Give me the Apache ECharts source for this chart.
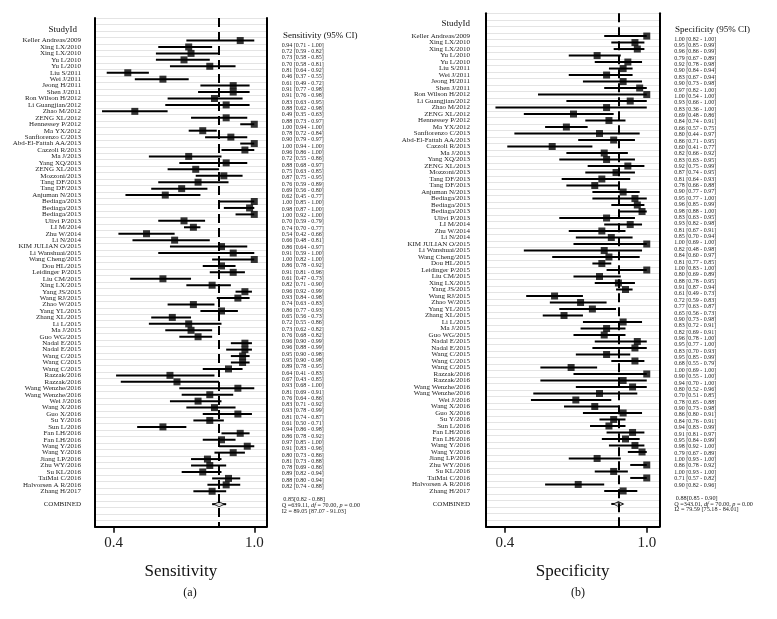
<!DOCTYPE html>
<html><head><meta charset="utf-8">
<script src="https://cdn.jsdelivr.net/npm/echarts@6/dist/echarts.min.js"></script>
<style>html,body{margin:0;padding:0;background:#fff}#c{width:777px;height:619px}</style>
</head><body><div id="c"></div>
<script>
const studies = ["Keller Andreas/2009","Xing LX/2010","Xing LX/2010","Yu L/2010","Yu L/2010","Liu S/2011","Wei J/2011","Jeong H/2011","Shen J/2011","Ron Wilson H/2012","Li Guangjian/2012","Zhao M/2012","ZENG XL/2012","Hennessey P/2012","Ma YX/2012","Sanfiorenzo C/2013","Abd-El-Fattah AA/2013","Cazzoli R/2013","Ma J/2013","Yang XQ/2013","ZENG XL/2013","Mozzoni/2013","Tang DF/2013","Tang DF/2013","Anjuman N/2013","Bediaga/2013","Bediaga/2013","Bediaga/2013","Ulivi P/2013","LI M/2014","Zhu W/2014","Li N/2014","KIM JULIAN O/2015","Li Wanshuai/2015","Wang Cheng/2015","Dou HL/2015","Leidinger P/2015","Liu CM/2015","Xing LX/2015","Yang JS/2015","Wang RJ/2015","Zhao W/2015","Yang YL/2015","Zhang XL/2015","Li L/2015","Ma J/2015","Guo WG/2015","Nadal E/2015","Nadal E/2015","Wang C/2015","Wang C/2015","Wang C/2015","Razzak/2016","Razzak/2016","Wang Wenzhe/2016","Wang Wenzhe/2016","Wei J/2016","Wang X/2016","Guo X/2016","Su Y/2016","Sun L/2016","Fan LH/2016","Fan LH/2016","Wang Y/2016","Wang Y/2016","Jiang LP/2016","Zhu WY/2016","Su KL/2016","TaiMai C/2016","Halvorsen A R/2016","Zhang H/2017"];

const sensEst = [0.94,0.72,0.73,0.70,0.81,0.46,0.61,0.91,0.91,0.83,0.88,0.49,0.88,1.00,0.78,0.90,1.00,0.96,0.72,0.88,0.75,0.87,0.76,0.69,0.62,1.00,0.98,1.00,0.70,0.74,0.54,0.66,0.86,0.91,1.00,0.86,0.91,0.61,0.82,0.96,0.93,0.74,0.86,0.65,0.72,0.73,0.76,0.96,0.96,0.95,0.95,0.89,0.64,0.67,0.93,0.81,0.76,0.83,0.93,0.81,0.61,0.94,0.86,0.97,0.91,0.80,0.81,0.78,0.89,0.88,0.82];
const sensLo = [0.71,0.59,0.58,0.58,0.64,0.37,0.49,0.77,0.76,0.63,0.62,0.35,0.73,0.94,0.72,0.79,0.94,0.86,0.55,0.68,0.63,0.75,0.59,0.56,0.45,0.85,0.87,0.92,0.59,0.70,0.42,0.48,0.64,0.59,0.82,0.78,0.81,0.47,0.71,0.92,0.84,0.63,0.77,0.56,0.55,0.62,0.68,0.90,0.88,0.90,0.90,0.78,0.41,0.43,0.68,0.69,0.64,0.71,0.78,0.74,0.50,0.86,0.78,0.85,0.83,0.73,0.73,0.69,0.82,0.80,0.74];
const sensHi = [1.00,0.82,0.85,0.81,0.92,0.55,0.72,0.98,0.98,0.95,0.98,0.63,0.97,1.00,0.84,0.97,1.00,1.00,0.86,0.97,0.85,0.95,0.89,0.80,0.77,1.00,1.00,1.00,0.79,0.77,0.66,0.81,0.97,1.00,1.00,0.92,0.96,0.73,0.90,0.99,0.98,0.83,0.93,0.73,0.86,0.82,0.82,0.99,0.99,0.98,0.98,0.95,0.83,0.85,1.00,0.91,0.86,0.92,0.99,0.87,0.71,0.98,0.92,1.00,0.96,0.86,0.88,0.86,0.94,0.94,0.88];

const specEst = [1.00,0.95,0.96,0.79,0.92,0.90,0.83,0.90,0.97,1.00,0.93,0.83,0.69,0.84,0.66,0.80,0.86,0.60,0.82,0.83,0.92,0.87,0.81,0.78,0.90,0.95,0.96,0.98,0.83,0.93,0.81,0.85,1.00,0.82,0.84,0.81,1.00,0.80,0.88,0.91,0.61,0.72,0.77,0.65,0.90,0.83,0.82,0.96,0.95,0.83,0.95,0.68,1.00,0.90,0.94,0.80,0.70,0.78,0.90,0.86,0.84,0.94,0.91,0.95,0.98,0.79,1.00,0.86,1.00,0.71,0.90];
const specLo = [0.82,0.85,0.86,0.67,0.78,0.84,0.67,0.73,0.82,0.54,0.66,0.36,0.48,0.74,0.57,0.44,0.71,0.41,0.66,0.63,0.75,0.74,0.64,0.66,0.77,0.77,0.85,0.88,0.63,0.82,0.67,0.70,0.69,0.48,0.60,0.77,0.83,0.69,0.78,0.87,0.49,0.59,0.63,0.56,0.73,0.72,0.69,0.78,0.77,0.70,0.85,0.55,0.69,0.55,0.70,0.52,0.51,0.65,0.73,0.80,0.76,0.83,0.81,0.84,0.92,0.67,0.93,0.78,0.93,0.57,0.82];
const specHi = [1.00,0.99,0.99,0.89,0.98,0.94,0.94,0.98,1.00,1.00,1.00,1.00,0.86,0.91,0.75,0.97,0.95,0.77,0.92,0.95,0.99,0.95,0.93,0.88,0.97,1.00,0.99,1.00,0.95,0.98,0.91,0.94,1.00,0.98,0.97,0.85,1.00,0.89,0.95,0.94,0.73,0.83,0.87,0.73,0.98,0.91,0.91,1.00,1.00,0.93,0.99,0.79,1.00,1.00,1.00,0.96,0.85,0.88,0.98,0.91,0.91,0.99,0.97,0.99,1.00,0.89,1.00,0.92,1.00,0.82,0.96];

const sensPooled = [0.85, 0.82, 0.88];
const specPooled = [0.88, 0.85, 0.90];
const sensStats = ["639.11", "70.00", "0.00", "89.05 [87.07 - 91.03]"];
const specStats = ["343.01", "70.00", "0.00", "79.59 [75.18 - 84.01]"];
const xTicks = [0.4, 1.0];

const FONT = '"Liberation Serif", "Times New Roman", "DejaVu Serif", serif';
const TOP_PAD = 3;
const COMB_IDX = TOP_PAD + studies.length + 1;
const VAL_COMB_IDX = studies.length + 2;

function ci(e, l, h) { return e.toFixed(2) + ' [' + l.toFixed(2) + ' - ' + h.toFixed(2) + ']'; }
function cats(list) { return ['', '', ''].concat(list, ['', 'COMBINED', '', '', '']); }

const ciRender = (params, api) => {
  const y = api.value(2);
  const p1 = api.coord([api.value(0), y]);
  const p2 = api.coord([api.value(1), y]);
  return { type: 'line', shape: { x1: p1[0], y1: p1[1], x2: p2[0], y2: p2[1] },
           style: { stroke: '#000', lineWidth: 2 } };
};

// k: panel index; g: plot grid; vg: value-text column grid
function panel(k, g, vg, est, lo, hi, pooled, stats, axisName, nameMargin) {
  const valTexts = est.map((v, i) => ci(v, lo[i], hi[i])).concat(['', '', 'C']);
  const combLabel = '{n| ' + pooled[0].toFixed(2) + '[' + pooled[1].toFixed(2) + ' - ' + pooled[2].toFixed(2) + ']}\n' +
    '{n|Q =' + stats[0] + ', }{i|df}{n| = ' + stats[1] + ', }{i|p}{n| = ' + stats[2] + '}\n' +
    '{n|I2 = ' + stats[3] + '}';
  const grids = [
    { left: g.left, top: g.top, width: g.width, height: g.height, containLabel: false, outerBoundsMode: 'none' },
    { left: vg.left, top: vg.top, width: vg.width, height: vg.height, containLabel: false, outerBoundsMode: 'none' }
  ];
  const xAxes = [{
    gridIndex: 2 * k, type: 'value', min: 0.32, max: 1.053,
    axisLine: { show: true, onZero: false, lineStyle: { color: '#000', width: 2 } },
    axisTick: { show: true, customValues: xTicks, length: 6, lineStyle: { color: '#000', width: 1.5 } },
    axisLabel: { customValues: xTicks, formatter: v => v.toFixed(1), fontSize: 15, fontFamily: FONT, color: '#222', margin: 9 },
    splitLine: { show: false },
    name: axisName, nameLocation: 'middle', nameGap: 36,
    nameTextStyle: { fontSize: 17, fontFamily: FONT, color: '#111' }
  }, {
    gridIndex: 2 * k + 1, type: 'value', show: false, min: 0, max: 1
  }];
  const yAxes = [{
    gridIndex: 2 * k, type: 'category', inverse: true, position: 'left', data: cats(studies),
    axisLine: { show: true, onZero: false, lineStyle: { color: '#000', width: 2 } },
    axisTick: { show: false },
    axisLabel: { interval: 0, fontSize: 7, fontFamily: FONT, color: '#222', margin: nameMargin, hideOverlap: false },
    splitLine: { show: true, interval: 0, lineStyle: { color: '#e4e4e4', width: 1 } }
  }, {
    gridIndex: 2 * k, type: 'category', inverse: true, position: 'right', data: cats(studies),
    axisLine: { show: true, onZero: false, lineStyle: { color: '#000', width: 2 } },
    axisTick: { show: false }, axisLabel: { show: false }, splitLine: { show: false }
  }, {
    gridIndex: 2 * k + 1, type: 'category', inverse: true, position: 'right', data: valTexts,
    axisLine: { show: false }, axisTick: { show: false }, splitLine: { show: false },
    axisLabel: {
      interval: 0, fontSize: 6, fontFamily: FONT, color: '#222', margin: 15, align: 'left', hideOverlap: false,
      formatter: (v, i) => i === VAL_COMB_IDX ? combLabel : v,
      rich: {
        n: { fontSize: 6.2, fontFamily: FONT, color: '#222', lineHeight: 5.6 },
        i: { fontSize: 6.2, fontFamily: FONT, fontStyle: 'italic', color: '#222', lineHeight: 5.6 }
      }
    }
  }];
  const series = [
    { type: 'custom', xAxisIndex: 2 * k, yAxisIndex: 3 * k, silent: true, renderItem: ciRender,
      encode: { x: [0, 1], y: 2 },
      data: est.map((v, i) => [lo[i], hi[i], i + TOP_PAD]).concat([[pooled[1], pooled[2], COMB_IDX]]) },
    { type: 'scatter', xAxisIndex: 2 * k, yAxisIndex: 3 * k, silent: true, symbol: 'rect', symbolSize: 7,
      itemStyle: { color: '#000' },
      data: est.map((v, i) => [v, i + TOP_PAD]),
      markLine: { silent: true, symbol: ['none', 'none'], label: { show: false },
        lineStyle: { color: '#000', width: 2, type: [9, 5] },
        data: [{ xAxis: pooled[0] }] } },
    { type: 'scatter', xAxisIndex: 2 * k, yAxisIndex: 3 * k, silent: true, symbol: 'diamond', symbolSize: [10, 5],
      itemStyle: { color: '#fff', borderColor: '#000', borderWidth: 1 },
      data: [[pooled[0], COMB_IDX]] }
  ];
  return { grids, xAxes, yAxes, series };
}

const nv = studies.length + 3;
const pA = panel(0, { left: 95, top: 18, width: 171.7, height: 508.7 },
  { left: 260, top: 45.3 - 6.303 / 2, width: 6.7, height: nv * 6.303 },
  sensEst, sensLo, sensHi, sensPooled, sensStats, 'Sensitivity', 14);
const pB = panel(1, { left: 486, top: 13.3, width: 173.3, height: 513.4 },
  { left: 652.6, top: 39 - 6.371 / 2, width: 6.7, height: nv * 6.371 },
  specEst, specLo, specHi, specPooled, specStats, 'Specificity', 16);

function txt(x, y, text, size, align) {
  return { type: 'text', x: x, y: y, silent: true,
    style: { text: text, fontSize: size, fontFamily: FONT, fill: '#111',
      align: align, verticalAlign: 'middle', textAlign: align, textVerticalAlign: 'middle' } };
}

const chart = echarts.init(document.getElementById('c'), null, { renderer: 'canvas' });
chart.setOption({
  animation: false,
  backgroundColor: '#fff',
  grid: [...pA.grids, ...pB.grids],
  xAxis: [...pA.xAxes, ...pB.xAxes],
  yAxis: [...pA.yAxes, ...pB.yAxes],
  series: [...pA.series, ...pB.series],
  graphic: [
    txt(77, 29.5, 'StudyId', 9, 'right'),
    txt(283, 36, 'Sensitivity (95% CI)', 9, 'left'),
    txt(470, 23.3, 'StudyId', 9, 'right'),
    txt(675, 29.3, 'Specificity (95% CI)', 9, 'left'),
    txt(190, 593, '(a)', 12, 'center'),
    txt(578, 593, '(b)', 12, 'center')
  ]
});
</script></body></html>
